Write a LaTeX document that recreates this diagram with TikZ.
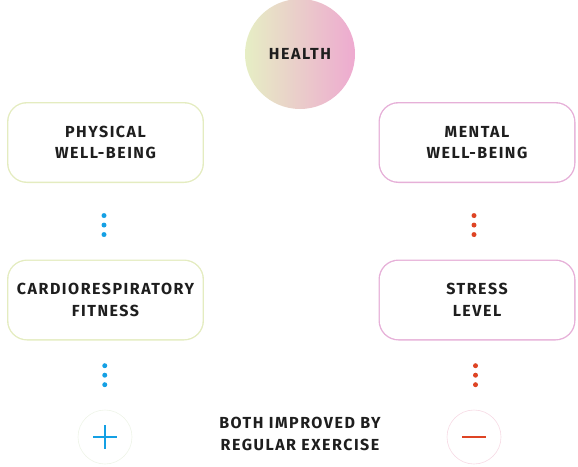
\documentclass[tikz,border=0pt]{standalone}
\usepackage{fontspec}
\setmainfont{Fira Sans}[LetterSpace=9.5]
\usetikzlibrary{calc}

\definecolor{healthL}{RGB}{230,238,196}
\definecolor{healthM}{RGB}{250,218,200}
\definecolor{healthR}{RGB}{238,170,208}
\definecolor{physL}{RGB}{228,236,192}
\definecolor{physM}{RGB}{214,234,244}
\definecolor{mentL}{RGB}{230,176,216}
\definecolor{mentM}{RGB}{246,212,206}
\definecolor{dotblue}{RGB}{20,160,228}
\definecolor{dotred}{RGB}{222,68,36}
\definecolor{ink}{RGB}{30,30,30}

\tikzset{
  label/.style={text=ink, align=center, font=\bfseries\fontsize{16}{21.5}\selectfont},
  wellbox/.style={label, rounded corners=20pt, minimum width=197pt, minimum height=81pt,
    inner sep=0pt, shade, shading angle=90,
    path picture={\fill[white, rounded corners=18.6pt]
      ([shift={(1.4pt,-1.4pt)}]path picture bounding box.north west) rectangle
      ([shift={(-1.4pt,1.4pt)}]path picture bounding box.south east);}},
  physbox/.style={wellbox, left color=physL, middle color=physM, right color=physL},
  mentbox/.style={wellbox, left color=mentL, middle color=mentM, right color=mentL},
  signring/.style={circle, minimum size=54pt, inner sep=0pt, line width=0.6pt},
  bluedot/.style={fill=dotblue},
  reddot/.style={fill=dotred}
}

\begin{document}
\begin{tikzpicture}[x=1pt, y=-1pt]
  \useasboundingbox (0,0) rectangle (578,466);

  \node[label, circle, minimum size=110pt, inner sep=0pt,
        left color=healthL, middle color=healthM, right color=healthR] (health) at (300,54) {HEALTH};

  \node[physbox] (phys) at (105.5,142.5) {PHYSICAL\\WELL-BEING};
  \node[mentbox] (ment) at (477,142.5) {MENTAL\\WELL-BEING};
  \node[physbox] (cardio) at (105.5,300) {CARDIORESPIRATORY\\FITNESS};
  \node[mentbox] (stress) at (477,300) {STRESS\\LEVEL};

  \node[signring, draw={rgb,255:red,238;green,244;blue,232}] (plus) at (105,437) {};
  \node[signring, draw={rgb,255:red,246;green,218;blue,228}] (minus) at (474,437) {};
  \node[label] (both) at (300,434) {BOTH IMPROVED BY\\REGULAR EXERCISE};

  % dotted links
  \foreach \d in {-9.5,0,9.5} {
    \fill[bluedot] ($(phys.south)!0.55!(cardio.north)+(-1.5,\d)$) circle (2.5pt);
    \fill[reddot] ($(ment.south)!0.55!(stress.north)+(-3,\d)$) circle (2.5pt);
    \fill[bluedot] ($(cardio.south)!0.5!(plus.north)+(-0.5,\d)$) circle (2.5pt);
    \fill[reddot] ($(stress.south)!0.5!(minus.north)+(0,\d)$) circle (2.5pt);
  }

  \draw[dotblue, line width=2.2pt] ($(plus)+(-12,0)$) -- ($(plus)+(12,0)$);
  \draw[dotblue, line width=2.2pt] ($(plus)+(0,-12)$) -- ($(plus)+(0,12)$);
  \draw[dotred, line width=2.2pt] ($(minus)+(-12,0)$) -- ($(minus)+(12,0)$);
\end{tikzpicture}
\end{document}
